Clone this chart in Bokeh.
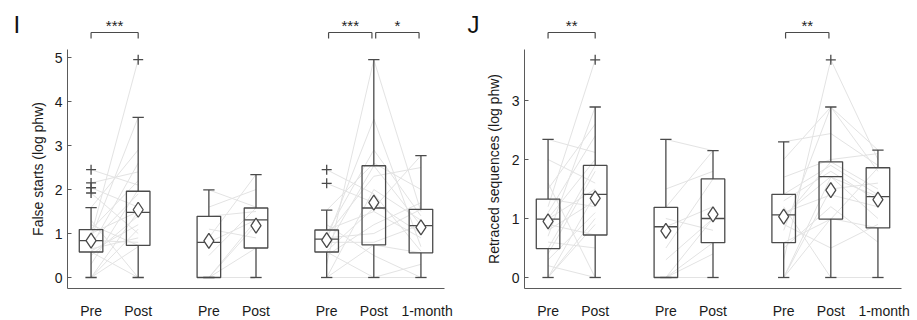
import math
from bokeh.plotting import figure
from bokeh.layouts import row
from bokeh.models import Range1d, FixedTicker, LinearAxis
from bokeh.core.properties import value
from bokeh.embed import file_html
from bokeh.resources import INLINE

FONT = "Liberation Sans"

# ---------------- data ----------------
tick_labels = ["Pre", "Post", "Pre", "Post", "Pre", "Post", "1-month"]

# Panel I : False starts (log phw) -- box statistics per condition
i_q1 = [0.58, 0.73, 0.00, 0.67, 0.58, 0.74, 0.56]
i_med = [0.84, 1.48, 0.80, 1.31, 0.87, 1.58, 1.18]
i_q3 = [1.09, 1.96, 1.39, 1.58, 1.08, 2.54, 1.55]
i_lo = [0.00, 0.00, 0.00, 0.00, 0.00, 0.00, 0.00]
i_hi = [1.59, 3.64, 1.99, 2.34, 1.53, 4.95, 2.77]
i_mean = [0.84, 1.54, 0.83, 1.18, 0.85, 1.70, 1.14]
i_out_cond = [0, 0, 0, 0, 1, 4, 4]
i_out_val = [2.45, 2.15, 2.04, 1.92, 4.95, 2.45, 2.14]

# Panel I : individual participants
i_g1_pre = [0.0, 0.0, 0.3, 0.58, 0.6, 0.7, 0.8, 0.84, 0.9, 1.0, 1.09, 1.2, 1.59, 1.92, 2.04, 2.15, 2.45, 0.5, 0.95, 0.65, 0.0, 1.3]
i_g1_post = [0.7, 1.5, 2.0, 0.0, 1.2, 2.6, 1.9, 0.8, 3.64, 1.5, 2.2, 0.73, 2.9, 1.0, 1.6, 2.4, 2.1, 1.4, 4.95, 0.9, 1.1, 0.0]
i_g2_pre = [0.0, 0.0, 0.0, 0.5, 0.8, 0.9, 1.1, 1.39, 1.99, 0.0, 1.6]
i_g2_post = [0.67, 1.3, 0.0, 1.58, 1.31, 2.34, 0.9, 1.5, 1.6, 1.2, 2.0]
i_g3_pre = [0.0, 0.0, 0.3, 0.58, 0.6, 0.7, 0.87, 0.9, 1.0, 1.08, 1.2, 1.53, 2.14, 2.45, 0.8, 0.5, 0.95, 0.0]
i_g3_post = [0.74, 2.0, 4.95, 0.0, 1.58, 2.54, 3.6, 1.0, 2.9, 1.5, 0.5, 2.6, 1.7, 1.9, 0.8, 1.2, 2.3, 0.0]
i_g3_month = [0.56, 1.3, 1.5, 0.0, 2.77, 1.18, 0.7, 1.55, 1.4, 0.9, 0.0, 2.0, 1.0, 0.6, 1.2, 1.7, 2.5, 0.3]

# Panel J : Retraced sequences (log phw)
j_q1 = [0.49, 0.72, 0.00, 0.59, 0.59, 0.99, 0.84]
j_med = [0.99, 1.41, 0.86, 1.00, 1.06, 1.71, 1.37]
j_q3 = [1.33, 1.90, 1.19, 1.67, 1.41, 1.96, 1.86]
j_lo = [0.00, 0.00, 0.00, 0.00, 0.00, 0.00, 0.00]
j_hi = [2.34, 2.89, 2.34, 2.15, 2.30, 2.89, 2.16]
j_mean = [0.95, 1.34, 0.79, 1.07, 1.03, 1.48, 1.32]
j_out_cond = [1, 5]
j_out_val = [3.69, 3.69]

j_g1_pre = [0.0, 0.0, 0.2, 0.49, 0.7, 0.9, 0.99, 1.1, 1.33, 1.6, 2.34, 0.4, 1.2, 0.0, 1.0, 0.8, 2.0, 0.6, 1.5, 0.3]
j_g1_post = [1.0, 1.41, 0.0, 1.9, 2.89, 0.72, 1.5, 2.4, 1.2, 0.0, 2.12, 1.8, 3.69, 0.9, 2.0, 1.3, 1.6, 0.5, 2.6, 1.1]
j_g2_pre = [0.0, 0.0, 0.0, 0.5, 0.86, 1.0, 1.19, 2.34, 0.3, 1.5, 0.0]
j_g2_post = [0.59, 1.0, 0.0, 1.67, 1.2, 0.8, 2.15, 2.15, 1.0, 1.8, 0.4]
j_g3_pre = [0.0, 0.0, 0.3, 0.59, 0.8, 1.0, 1.06, 1.2, 1.41, 1.7, 2.30, 0.5, 0.9, 1.3, 0.0, 2.0, 1.1]
j_g3_post = [1.0, 1.7, 3.69, 0.99, 2.89, 1.96, 1.71, 0.0, 1.9, 2.0, 2.44, 1.2, 0.5, 1.8, 1.5, 2.89, 1.4]
j_g3_month = [0.84, 1.37, 2.0, 1.86, 2.16, 1.5, 1.0, 0.0, 1.4, 2.1, 1.9, 0.6, 0.9, 1.3, 1.6, 1.8, 1.2]

# significance brackets: (from condition, to condition, stars)
i_sig = [(0, 1, "***"), (4, 5, "***"), (5, 6, "*")]
j_sig = [(0, 1, "**"), (4, 5, "**")]

# ---------------- layout (page pixel positions) ----------------
POS = [1.0, 2.0, 3.5, 4.5, 6.0, 7.0, 8.0]
BOX_W = 0.5
CAP_W = 0.24
BOX_COL = "#4a4a4a"
AXIS_COL = "#5a5a5a"
IND_COL = "#e3e3e3"
TXT_COL = "#1a1a1a"
PX_PER_X = 377 / 8.0
PAGE_TOP = 0
FIG_H = 318
AXIS_BOTTOM_PX = 288   # x axis line
AXIS_TOP_PX = 49       # top of y axis line
ZERO_PX = 277          # y = 0


def make_panel(letter, ytitle, q1, med, q3, lo, hi, mean, out_c, out_v,
               groups, sig, yticks, ppu, fig_left, fig_w, axis_left, title_cx,
               letter_x, last_label_shift):
    xd = lambda px: 0.5 + (px - axis_left) / PX_PER_X
    yd = lambda py: (ZERO_PX - py) / ppu

    p = figure(frame_width=fig_w, frame_height=FIG_H,
               x_range=Range1d(xd(fig_left), xd(fig_left + fig_w)),
               y_range=Range1d(yd(PAGE_TOP + FIG_H), yd(PAGE_TOP)),
               x_axis_type=None, y_axis_type=None,
               output_backend="svg", toolbar_location=None,
               min_border_left=0, min_border_right=0, min_border_top=0, min_border_bottom=0)
    p.outline_line_color = None
    p.grid.visible = False

    ybot = yd(AXIS_BOTTOM_PX)

    # individual participant lines
    x0, y0, x1, y1 = [], [], [], []
    for (ca, cb, va, vb) in groups:
        for a, b in zip(va, vb):
            x0.append(POS[ca]); y0.append(a); x1.append(POS[cb]); y1.append(b)
    p.segment(x0=x0, y0=y0, x1=x1, y1=y1, line_color=IND_COL, line_width=1)

    # boxes
    src = dict(x=POS, q1=q1, med=med, q3=q3, lo=lo, hi=hi, mean=mean,
               xl=[x - BOX_W / 2 for x in POS], xr=[x + BOX_W / 2 for x in POS],
               cl=[x - CAP_W / 2 for x in POS], cr=[x + CAP_W / 2 for x in POS])
    kw = dict(source=src, line_color=BOX_COL, line_width=1.3)
    p.segment(x0="x", y0="q3", x1="x", y1="hi", **kw)
    p.segment(x0="x", y0="lo", x1="x", y1="q1", **kw)
    p.segment(x0="cl", y0="hi", x1="cr", y1="hi", **kw)
    p.segment(x0="cl", y0="lo", x1="cr", y1="lo", **kw)
    p.quad(left="xl", right="xr", bottom="q1", top="q3", fill_color=None, **kw)
    p.segment(x0="xl", y0="med", x1="xr", y1="med", **kw)
    p.scatter(x="x", y="mean", marker="diamond", size=15, fill_color="white", **kw)

    # outliers
    p.scatter(x=[POS[c] for c in out_c], y=out_v, marker="cross", size=10,
              line_color=BOX_COL, line_width=1.3)

    # significance brackets
    by, bt, sy = yd(32), yd(38), yd(25)
    bx0, by0, bx1, by1, sx, st = [], [], [], [], [], []
    for (a, b, txt) in sig:
        shrink = 0.04 if a >= 4 else 0.0
        xa, xb = POS[a] + shrink, POS[b] - shrink
        bx0 += [xa, xa, xb]; by0 += [bt, by, by]
        bx1 += [xa, xb, xb]; by1 += [by, by, bt]
        sx.append((xa + xb) / 2); st.append(txt)
    p.segment(x0=bx0, y0=by0, x1=bx1, y1=by1, line_color=BOX_COL, line_width=1.2)
    p.text(x=sx, y=[sy] * len(sx), text=st, text_align="center", text_baseline="middle",
           text_font_size="15px", text_color="#222222")

    # panel letter and y title
    p.text(x=[xd(letter_x)], y=[yd(24)], text=[letter], text_align="left",
           text_baseline="alphabetic", text_font=value(FONT), text_font_size="24px",
           text_color="#111111")
    p.text(x=[xd(title_cx)], y=[yd((AXIS_TOP_PX + AXIS_BOTTOM_PX) / 2)], text=[ytitle],
           angle=math.pi / 2, text_align="center", text_baseline="middle",
           text_font=value(FONT), text_font_size="14px", text_color=TXT_COL)

    # axes (fixed at the box-plot frame edges)
    label_pos = POS[:-1] + [POS[-1] + last_label_shift]
    xa = LinearAxis(fixed_location=ybot, bounds=(0.5, 8.5),
                    ticker=FixedTicker(ticks=label_pos))
    xa.major_label_overrides = {t: l for t, l in zip(label_pos, tick_labels)}
    xa.major_tick_line_color = None
    xa.minor_tick_line_color = None
    xa.axis_line_color = AXIS_COL
    xa.major_label_text_font = FONT
    xa.major_label_text_font_size = "14px"
    xa.major_label_text_color = TXT_COL
    xa.major_label_standoff = 8
    p.add_layout(xa, "below")

    ya = LinearAxis(fixed_location=0.5, bounds=(ybot, yd(AXIS_TOP_PX)),
                    ticker=FixedTicker(ticks=yticks))
    ya.major_tick_in = 4
    ya.major_tick_out = 0
    ya.major_tick_line_color = AXIS_COL
    ya.minor_tick_line_color = None
    ya.axis_line_color = AXIS_COL
    ya.major_label_text_font = FONT
    ya.major_label_text_font_size = "14px"
    ya.major_label_text_color = TXT_COL
    ya.major_label_standoff = 5
    p.add_layout(ya, "left")
    return p


groups_i = [(0, 1, i_g1_pre, i_g1_post), (2, 3, i_g2_pre, i_g2_post),
            (4, 5, i_g3_pre, i_g3_post), (5, 6, i_g3_post, i_g3_month)]
groups_j = [(0, 1, j_g1_pre, j_g1_post), (2, 3, j_g2_pre, j_g2_post),
            (4, 5, j_g3_pre, j_g3_post), (5, 6, j_g3_post, j_g3_month)]

p1 = make_panel("I", "False starts (log phw)", i_q1, i_med, i_q3, i_lo, i_hi, i_mean,
                i_out_cond, i_out_val, groups_i, i_sig, yticks=[0, 1, 2, 3, 4, 5],
                ppu=44.0, fig_left=0, fig_w=458, axis_left=67, title_cx=37.5,
                letter_x=13, last_label_shift=0.13)
p2 = make_panel("J", "Retraced sequences (log phw)", j_q1, j_med, j_q3, j_lo, j_hi, j_mean,
                j_out_cond, j_out_val, groups_j, j_sig, yticks=[0, 1, 2, 3],
                ppu=59.0, fig_left=458, fig_w=458, axis_left=524, title_cx=493,
                letter_x=467, last_label_shift=0.13)

layout = row(p1, p2)
open("out.html", "w").write(file_html(layout, INLINE))
